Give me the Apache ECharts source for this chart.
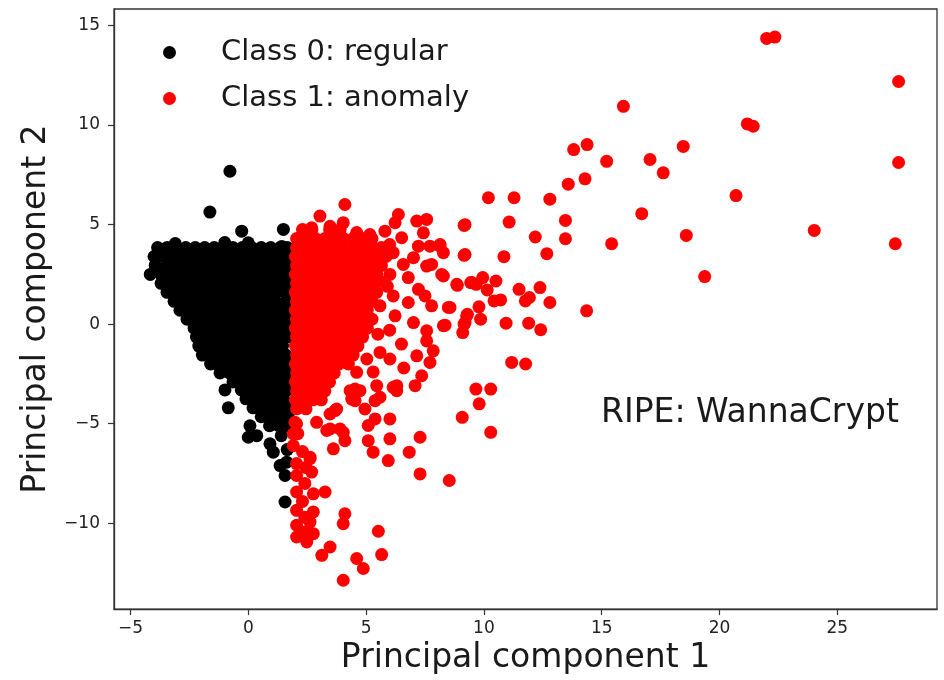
<!DOCTYPE html>
<html><head><meta charset="utf-8">
<script src="https://cdn.jsdelivr.net/npm/echarts@6/dist/echarts.min.js"></script>
<style>html,body{margin:0;padding:0;background:#fff}#c{width:944px;height:680px}</style>
</head><body><div id="c"></div>
<script>
// Tick labels
const xTicks = [-5, 0, 5, 10, 15, 20, 25];
const yTicks = [-10, -5, 0, 5, 10, 15];
const seriesNames = ['Class 0: regular', 'Class 1: anomaly'];
const annotation = 'RIPE: WannaCrypt';
const xTitle = 'Principal component 1';
const yTitle = 'Principal component 2';

// Class 0 dense cluster, rows as [y, x1, x2, ...]
const class0Rows = [
  [3.85, -3.85,-3.45,-3.05,-2.65,-2.25,-1.85,-1.45,-1.05,-0.65,-0.25,0.15,0.55,0.95,1.35,1.65],
  [3.4, -4.0,-3.6,-3.2,-2.8,-2.4,-2.0,-1.6,-1.2,-0.8,-0.4,0,0.4,0.8,1.2,1.6],
  [2.95, -3.95,-3.45,-3.05,-2.65,-2.25,-1.85,-1.45,-1.05,-0.65,-0.25,0.15,0.55,0.95,1.35,1.65],
  [2.5, -4.16,-3.7,-3.2,-2.8,-2.4,-2.0,-1.6,-1.2,-0.8,-0.4,0,0.4,0.8,1.2,1.6],
  [2.05, -3.7,-3.45,-3.05,-2.65,-2.25,-1.85,-1.45,-1.05,-0.65,-0.25,0.15,0.55,0.95,1.35,1.65],
  [1.6, -3.45,-3.2,-2.8,-2.4,-2.0,-1.6,-1.2,-0.8,-0.4,0,0.4,0.8,1.2,1.6],
  [1.15, -3.15,-2.85,-2.45,-2.05,-1.65,-1.25,-0.85,-0.45,-0.05,0.35,0.75,1.15,1.6],
  [0.7, -2.9,-2.6,-2.2,-1.8,-1.4,-1.0,-0.6,-0.2,0.2,0.6,1.0,1.4,1.65],
  [0.25, -2.6,-2.3,-1.9,-1.5,-1.1,-0.7,-0.3,0.1,0.5,0.9,1.3,1.65],
  [-0.2, -2.3,-2.05,-1.65,-1.25,-0.85,-0.45,-0.05,0.35,0.75,1.15,1.55],
  [-0.65, -2.2,-1.9,-1.5,-1.1,-0.7,-0.3,0.1,0.5,0.9,1.3,1.65],
  [-1.1, -2.1,-1.75,-1.35,-0.95,-0.55,-0.15,0.25,0.65,1.05,1.45],
  [-1.55, -1.95,-1.6,-1.2,-0.8,-0.4,0,0.4,0.8,1.2,1.6],
  [-2.0, -1.6,-1.35,-0.95,-0.55,-0.15,0.25,0.65,1.05,1.45,1.7],
  [-2.45, -1.2,-0.8,-0.4,0,0.4,0.8,1.2,1.6],
  [-2.9, -0.65,-0.15,0.25,0.65,1.05,1.45,1.7],
  [-3.3, -0.99,-0.3,0.1,0.5,0.9,1.3,1.65],
  [-3.75, -0.1,0.3,0.7,1.1,1.5],
  [-4.2, -0.85,0.2,0.6,1.0,1.4,1.7],
  [-4.65, 0.55,0.95,1.35,1.7],
  [-5.1, 0.07,0.9,1.3,1.65]
];
// Class 0 isolated points [x, y]
const class0Points = [
  [0.0,-5.68],[0.36,-5.6],[0.92,-6.01],[1.06,-6.43],[1.35,-7.1],[1.63,-6.93],[1.56,-7.6],[1.56,-8.93],
  [1.4,-5.6],[1.65,-6.3],
  [-0.78,7.68],[-1.63,5.63],[-0.28,4.67],[1.49,4.76],[0.0,4.09],[1.42,3.9],[-3.1,4.05],[-1.0,4.1]
];

// Class 1 dense cluster, rows as [y, x1, x2, ...]
const class1Rows = [
  [4.75, 2.3,2.7,3.45,3.9],
  [4.3, 2.05,2.45,2.85,3.25,3.65,4.05,4.45,4.85,5.25],
  [3.85, 2.05,2.45,2.85,3.25,3.65,4.05,4.45,4.85,5.25,5.65],
  [3.4, 2.0,2.25,2.65,3.05,3.45,3.85,4.25,4.65,5.05,5.45,5.85],
  [2.95, 2.05,2.45,2.85,3.25,3.65,4.05,4.45,4.85,5.25,5.65],
  [2.5, 2.0,2.25,2.65,3.05,3.45,3.85,4.25,4.65,5.05,5.45],
  [2.05, 2.05,2.45,2.85,3.25,3.65,4.05,4.45,4.85,5.25],
  [1.6, 2.0,2.25,2.65,3.05,3.45,3.85,4.25,4.65,5.05,5.45],
  [1.15, 2.05,2.45,2.85,3.25,3.65,4.05,4.45,4.85,5.25],
  [0.7, 2.0,2.25,2.65,3.05,3.45,3.85,4.25,4.65,5.05],
  [0.25, 2.05,2.45,2.85,3.25,3.65,4.05,4.45,4.85,5.25],
  [-0.2, 2.0,2.25,2.65,3.05,3.45,3.85,4.25,4.65,5.05],
  [-0.65, 2.05,2.45,2.85,3.25,3.65,4.05,4.45,4.85],
  [-1.1, 2.0,2.25,2.65,3.05,3.45,3.85,4.25,4.65],
  [-1.55, 2.05,2.45,2.85,3.25,3.65,4.05,4.45],
  [-2.0, 2.0,2.25,2.65,3.05,3.45,3.85,4.25],
  [-2.45, 2.05,2.45,2.85,3.25,3.65],
  [-2.9, 2.0,2.25,2.65,3.05,3.45],
  [-3.35, 2.05,2.45,2.85,3.25],
  [-3.8, 2.0,2.35,2.75,3.1],
  [-4.25, 2.05,2.45]
];
// Class 1 scattered points [x, y]
const class1Points = [
  [3.04,5.43],[4.1,6.01],[2.69,4.84],[3.47,4.92],[4.03,5.1],[4.6,4.6],[5.16,4.5],
  [5.8,4.67],[6.23,5.1],[6.37,5.51],[7.15,5.18],[7.57,5.26],[7.43,4.59],[6.51,4.34],[7.22,3.92],
  [8.14,4.0],[8.28,3.59],[9.2,5.0],[9.2,3.5],[6.58,3.0],[7.57,2.92],[7.78,3.0],[6.01,2.5],[6.79,2.34],
  [8.21,2.5],[8.85,2.0],[9.48,2.09],[7.22,1.75],[7.5,1.42],[6.79,1.09],[7.78,0.92],[8.49,0.84],
  [6.23,0.42],[7.01,0.08],[8.28,-0.08],[7.57,-0.33],[9.2,0.08],[9.27,0.42],[5.59,3.5],[6.15,3.59],
  [7.01,3.34],[7.71,3.92],[5.59,2.17],[6.15,1.42],[5.59,0.92],[6.0,4.0],[5.9,1.9],
  [9.16,4.96],[11.07,5.13],[13.46,5.21],[10.19,6.35],[11.28,6.35],[12.8,6.28],[13.58,7.03],[14.29,7.3],
  [12.18,4.38],[13.46,4.29],[15.42,4.04],[12.67,3.54],[9.16,3.46],[10.85,3.39],[8.13,3.92],[8.28,2.42],
  [8.87,1.95],[9.44,2.09],[9.67,2.0],[9.95,2.34],[10.51,2.17],[10.14,1.72],[10.43,1.17],[10.71,1.22],
  [11.49,1.75],[12.38,1.84],[11.76,1.17],[11.93,1.34],[12.8,1.09],[14.36,0.67],[8.56,0.84],[9.79,0.87],
  [9.3,0.5],[8.35,-0.05],[9.16,0.0],[9.1,-0.42],[9.86,0.25],[10.94,0.05],[11.9,0.05],[12.41,-0.28],
  [22.0,14.35],[22.35,14.42],[27.6,12.19],[15.92,10.94],[21.18,10.06],[21.43,9.94],[27.6,8.12],
  [13.81,8.77],[14.38,9.02],[15.21,8.18],[17.05,8.27],[17.61,7.6],[18.46,8.93],[20.7,6.46],[16.7,5.55],
  [24.02,4.71],[18.59,4.46],[27.46,4.04],[19.37,2.39],
  [11.18,-1.92],[11.77,-2.0],[9.66,-3.26],[10.29,-3.26],[9.8,-4.0],[9.08,-4.68],[10.29,-5.43],[8.53,-7.85],
  [7.57,-0.84],[7.85,-1.34],[7.15,-1.59],[7.71,-1.92],[7.36,-2.59],[7.08,-3.09],[4.53,-3.26],[5.45,-3.09],
  [6.3,-3.09],[6.3,-3.34],[5.59,-3.67],[5.38,-3.84],[4.53,-3.84],[4.32,-3.34],[4.95,-4.26],[3.68,-4.34],
  [6.01,-4.76],[5.38,-4.76],[5.09,-5.09],[3.47,-5.26],[4.03,-5.43],[4.1,-5.85],[5.09,-5.85],[6.01,-5.76],
  [7.29,-5.68],[3.61,-6.26],[5.3,-6.43],[6.83,-6.43],[5.94,-6.85],[7.29,-7.52],[3.33,-5.34],[3.89,-5.26],
  [2.9,-4.93],[3.47,-4.51],[3.75,-4.26],[4.74,-3.34],[4.39,-3.76],[6.15,-3.17],
  [5.59,-1.42],[6.01,-1.75],[5.03,-1.75],[4.6,-2.42],[6.5,-1.0],[5.5,-0.5],[6.0,-0.3],[5.3,-2.4],[6.6,-2.2],
  [1.98,-4.93],[1.91,-5.51],[1.91,-6.1],[2.62,-6.68],[2.69,-7.43],[2.05,-7.6],[3.26,-8.43],[2.76,-8.52],
  [2.05,-8.43],[2.05,-9.35],[2.76,-9.43],[2.62,-9.94],[4.1,-9.52],[4.03,-10.02],[2.05,-10.69],[2.48,-10.94],
  [2.76,-10.52],[5.52,-10.4],[3.47,-11.19],[3.12,-11.61],[5.66,-11.57],[4.6,-11.77],[4.88,-12.27],[4.03,-12.86],
  [2.41,-10.44],[2.05,-5.0],[2.1,-5.5],[2.3,-6.4],[2.05,-7.0],[2.45,-7.2],[2.4,-8.0],[2.3,-8.9],[2.4,-9.7],
  [2.05,-10.1],[2.62,-6.76]
];

function expandRows(rows) {
  const out = [];
  rows.forEach(r => { for (let i = 1; i < r.length; i++) out.push([r[i], r[0]]); });
  return out;
}
const class0Data = expandRows(class0Rows).concat(class0Points);
const class1Data = expandRows(class1Rows).concat(class1Points);

const FONT = 'DejaVu Sans';
const fmt = v => String(v).replace('-', '\u2212');

const chart = echarts.init(document.getElementById('c'), null, {renderer: 'canvas'});
chart.setOption({
  backgroundColor: '#fff',
  animation: false,
  grid: {left: 114, right: 7, top: 9, bottom: 69, show: true, borderColor: '#333', borderWidth: 1.3, backgroundColor: 'transparent'},
  legend: {
    orient: 'vertical', left: 158, top: 33, itemWidth: 13, itemHeight: 13, itemGap: 17,
    icon: 'circle',
    textStyle: {fontFamily: FONT, fontSize: 29, color: '#1a1a1a', padding: [0, 0, 0, 40]},
    data: seriesNames
  },
  xAxis: {
    type: 'value', min: -5.7, max: 29.23,
    axisLine: {show: true, onZero: false, lineStyle: {color: '#333', width: 1.3}},
    axisTick: {show: true, length: 6, inside: false, lineStyle: {color: '#333', width: 1.2}, customValues: xTicks},
    axisLabel: {fontFamily: FONT, fontSize: 17, color: '#222', margin: 11, customValues: xTicks, formatter: fmt},
    splitLine: {show: false},
    name: xTitle, nameLocation: 'middle', nameGap: 32,
    nameTextStyle: {fontFamily: FONT, fontSize: 33, color: '#1a1a1a'}
  },
  yAxis: {
    type: 'value', min: -14.31, max: 15.83,
    axisLine: {show: true, onZero: false, lineStyle: {color: '#333', width: 1.3}},
    axisTick: {show: true, length: 6, inside: false, lineStyle: {color: '#333', width: 1.2}, customValues: yTicks},
    axisLabel: {fontFamily: FONT, fontSize: 17, color: '#222', margin: 14, customValues: yTicks, formatter: fmt},
    splitLine: {show: false},
    name: yTitle, nameLocation: 'middle', nameGap: 58, nameRotate: 90,
    nameTextStyle: {fontFamily: FONT, fontSize: 33, color: '#1a1a1a'}
  },
  series: [
    {name: seriesNames[0], type: 'scatter', data: class0Data, symbol: 'circle', symbolSize: 13,
     itemStyle: {color: '#000000', opacity: 1}, emphasis: {disabled: true}, z: 2},
    {name: seriesNames[1], type: 'scatter', data: class1Data, symbol: 'circle', symbolSize: 13,
     itemStyle: {color: '#ff0000', opacity: 1}, emphasis: {disabled: true}, z: 3}
  ],
  graphic: [{
    type: 'text', left: 601, top: 397,
    style: {text: annotation, font: '33px "DejaVu Sans"', fill: '#1a1a1a'}
  }]
});
</script>
</body></html>
